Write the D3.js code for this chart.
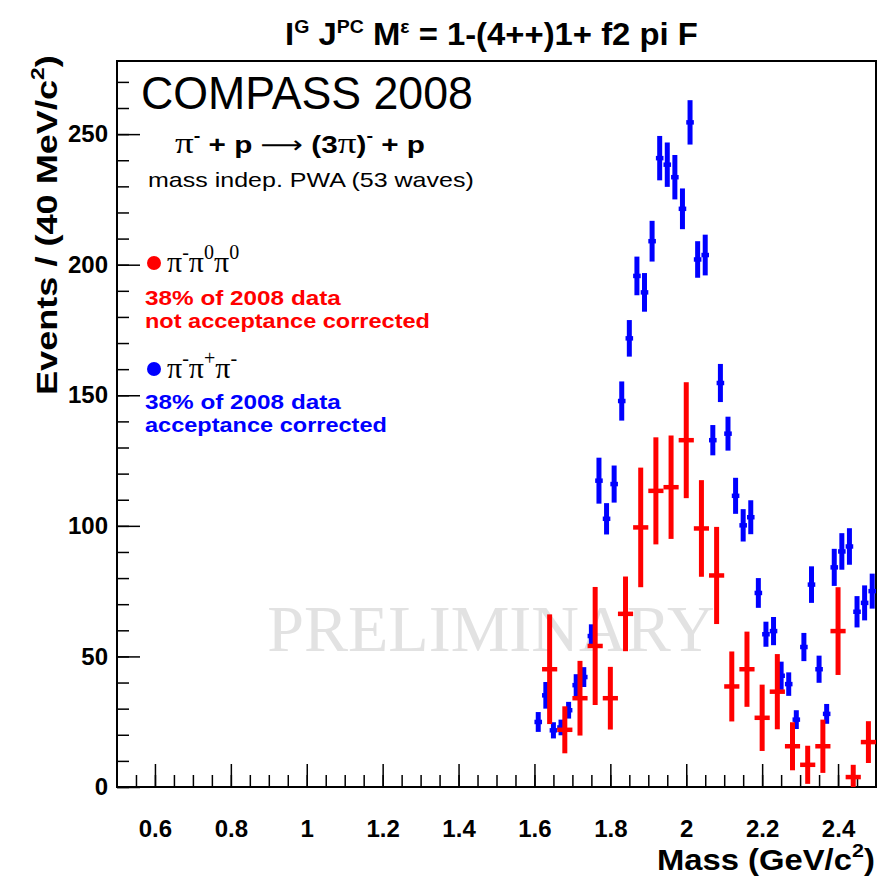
<!DOCTYPE html>
<html>
<head>
<meta charset="UTF-8">
<style>
body { margin: 0; background: #fff; }
svg { display: block; }
text { font-family: "Liberation Sans", Arial, sans-serif; }
.axis text { font-size: 24px; font-weight: bold; fill: #000; }
.axis line { stroke: #000; stroke-width: 1.5; }
</style>
</head>
<body>
<svg width="888" height="882"></svg>
<script src="https://d3js.org/d3.v7.min.js"></script>
<script>
// pi- pi+ pi- (blue), acceptance corrected
var blueMass = [1.61, 1.63, 1.65, 1.67, 1.69, 1.71, 1.73, 1.75, 1.77, 1.79, 1.81, 1.83, 1.85, 1.87, 1.89,
    1.91, 1.93, 1.95, 1.97, 1.99, 2.01, 2.03, 2.05, 2.07, 2.09, 2.11, 2.13, 2.15, 2.17, 2.19,
    2.21, 2.23, 2.25, 2.27, 2.29, 2.31, 2.33, 2.35, 2.37, 2.39, 2.41, 2.43, 2.45, 2.47, 2.49];
var blueVal = [24.9, 35.1, 21.7, 22.8, 29.4, 39, 42.1, 57.8, 117.3, 102.7, 116, 147.8, 171.8, 195.7, 189.4,
    209, 240.8, 238.3, 233.5, 221.4, 254.5, 202, 203.7, 132.8, 154.7, 135.3, 111.5, 100.2, 103.3, 74.3,
    58.5, 59.7, 42.6, 39.4, 25.8, 53.6, 77.5, 45.1, 28, 84.1, 90.2, 92.1, 67.1, 70.5, 75];
var blueErr = [3.8, 5.1, 3.1, 3, 3.2, 4.2, 3.8, 4.5, 8.8, 6, 7.1, 7.5, 7, 7.4, 7.4,
    7.8, 8.5, 8.5, 8.5, 7.8, 8.5, 7, 7.8, 5.8, 7.3, 6.5, 6.9, 6.2, 6.5, 5.7,
    4.8, 5.4, 5.4, 4.5, 3.6, 5.4, 7, 5.2, 3.8, 7.1, 7, 7, 6, 6.7, 6.7];

// pi- pi0 pi0 (red), not acceptance corrected
var redMass = [1.64, 1.68, 1.72, 1.76, 1.80, 1.84, 1.88, 1.92, 1.96, 2.00, 2.04,
    2.08, 2.12, 2.16, 2.20, 2.24, 2.28, 2.32, 2.36, 2.40, 2.44, 2.48];
var redVal = [45.1, 21.9, 34, 54, 34, 66.3, 99.4, 113.4, 114.8, 132.8, 99,
    81, 38.5, 45.1, 26.5, 36.5, 15.6, 8.5, 15.6, 59.7, 3.8, 17.2];
var redErr = [21, 9, 14.3, 22.6, 12, 14.3, 22.9, 20.5, 19.8, 22.2, 18.5,
    18.6, 13.4, 14.4, 12.7, 14.4, 9.2, 7.3, 10.2, 16.8, 4.7, 8];

var xMajor = [0.6, 0.8, 1.0, 1.2, 1.4, 1.6, 1.8, 2.0, 2.2, 2.4];
var xLabels = ["0.6", "0.8", "1", "1.2", "1.4", "1.6", "1.8", "2", "2.2", "2.4"];
var yMajor = [0, 50, 100, 150, 200, 250];

var svg = d3.select("svg");
var plotL = 117, plotR = 876, plotT = 61, plotB = 787;

var x = d3.scaleLinear().domain([0.5, 2.5]).range([plotL, plotR]);
var y = d3.scaleLinear().domain([0, 278]).range([plotB, plotT]);

svg.append("defs").append("clipPath").attr("id", "plot")
    .append("rect").attr("x", plotL).attr("y", plotT)
    .attr("width", plotR - plotL).attr("height", plotB - plotT);

var serif = "'Liberation Serif', 'Times New Roman', serif";

// squeeze a text horizontally to a given width
function fitLabel(parent, x0, y0, width, rot, build) {
    var g = parent.append("g");
    var t = g.append("text");
    build(t);
    var w = t.node().getBBox().width;
    g.attr("transform", "translate(" + x0 + "," + y0 + ")" + (rot ? " rotate(" + rot + ")" : "") +
        " scale(" + (width / w) + ",1)");
    return t;
}
// superscript, then the following text back on the baseline
function sup(t, s, size, shift, after) {
    t.append("tspan").attr("dy", -shift).style("font-size", size + "px").text(s);
    return t.append("tspan").attr("dy", shift).text(after);
}
function pi(t, dy) {
    return t.append("tspan").attr("dy", dy || 0).style("font-family", serif)
        .style("font-size", "30px").style("font-weight", "normal").text("\u03c0");
}

// watermark
svg.append("text")
    .attr("x", 491).attr("y", 651)
    .attr("text-anchor", "middle")
    .style("font-family", serif)
    .style("font-size", "66px")
    .attr("fill", "#e2e2e2")
    .text("PRELIMINARY");

// axes
svg.append("g").attr("class", "axis").attr("transform", "translate(" + plotL + ",0)")
    .call(d3.axisLeft(y).tickValues(d3.range(0, 280, 10)).tickSize(-12).tickFormat(""));
svg.append("g").attr("class", "axis").attr("transform", "translate(" + plotL + ",0)")
    .call(d3.axisLeft(y).tickValues(yMajor).tickSize(-23).tickPadding(9).tickFormat(d3.format("d")));
svg.append("g").attr("class", "axis").attr("transform", "translate(0," + plotB + ")")
    .call(d3.axisBottom(x).tickValues(d3.range(0.55, 2.5, 0.05)).tickSize(-12).tickFormat(""));
svg.append("g").attr("class", "axis").attr("transform", "translate(0," + plotB + ")")
    .call(d3.axisBottom(x).tickValues(xMajor).tickSize(-23).tickPadding(33)
        .tickFormat(function(d, i) { return xLabels[i]; }));
svg.selectAll(".axis .domain").remove();

svg.append("rect")
    .attr("x", plotL).attr("y", plotT)
    .attr("width", plotR - plotL).attr("height", plotB - plotT)
    .attr("fill", "none").attr("stroke", "#000").attr("stroke-width", 2);

// data
function drawSeries(mass, val, err, color, dx, w) {
    var g = svg.append("g").attr("clip-path", "url(#plot)");
    var pts = g.selectAll("g").data(mass).enter().append("g");
    pts.append("line")
        .attr("x1", function(d) { return x(d); })
        .attr("x2", function(d) { return x(d); })
        .attr("y1", function(d, i) { return y(val[i] - err[i]); })
        .attr("y2", function(d, i) { return y(val[i] + err[i]); })
        .attr("stroke", color).attr("stroke-width", w);
    pts.append("line")
        .attr("x1", function(d) { return x(d - dx); })
        .attr("x2", function(d) { return x(d + dx); })
        .attr("y1", function(d, i) { return y(val[i]); })
        .attr("y2", function(d, i) { return y(val[i]); })
        .attr("stroke", color).attr("stroke-width", w - 0.5);
}
drawSeries(blueMass, blueVal, blueErr, "#0000ff", 0.01, 5);
drawSeries(redMass, redVal, redErr, "#ff0000", 0.02, 5);

// title
fitLabel(svg, 285, 45, 413, 0, function(t) {
    t.style("font-size", "32px").style("font-weight", "bold");
    t.append("tspan").text("I");
    sup(t, "G", 19, 12, " J");
    sup(t, "PC", 19, 12, " M");
    sup(t, "\u03b5", 19, 12, " = 1-(4++)1+ f2 pi F");
});

// axis titles
fitLabel(svg, 657, 870, 218, 0, function(t) {
    t.style("font-size", "29px").style("font-weight", "bold");
    t.append("tspan").text("Mass (GeV/c");
    sup(t, "2", 19, 13, ")");
});
fitLabel(svg, 57, 395, 340, -90, function(t) {
    t.style("font-size", "30px").style("font-weight", "bold");
    t.append("tspan").text("Events / (40 MeV/c");
    sup(t, "2", 19, 13, ")");
});

// annotations
fitLabel(svg, 141, 109, 332, 0, function(t) {
    t.style("font-size", "46px").text("COMPASS 2008");
});
fitLabel(svg, 175, 153, 250, 0, function(t) {
    t.style("font-size", "24px").style("font-weight", "bold");
    pi(t);
    sup(t, "-", 16, 12, " + p ");
    t.append("tspan").style("font-family", "'DejaVu Sans'").style("font-weight", "normal").text("\u27f6");
    t.append("tspan").text("  (3");
    pi(t);
    t.append("tspan").text(")");
    sup(t, "-", 16, 12, " + p");
});
fitLabel(svg, 148, 187, 326, 0, function(t) {
    t.style("font-size", "20px").text("mass indep. PWA (53 waves)");
});

// legend
function pions(x0, y0, color, charges) {
    svg.append("circle").attr("cx", x0 - 13).attr("cy", y0 - 9).attr("r", 7).attr("fill", color);
    var t = svg.append("text").attr("x", x0).attr("y", y0)
        .style("font-family", serif).style("font-size", "30px");
    charges.forEach(function(c, i) {
        pi(t, i === 0 ? 0 : 13);
        t.append("tspan").attr("dy", -13).style("font-size", "20px").text(c);
    });
}
pions(167, 272, "#ff0000", ["-", "0", "0"]);
pions(167, 378, "#0000ff", ["-", "+", "-"]);

function note(y0, width, color, s) {
    fitLabel(svg, 145, y0, width, 0, function(t) {
        t.style("font-size", "20px").style("font-weight", "bold").attr("fill", color).text(s);
    });
}
note(305, 197, "#ff0000", "38% of 2008 data");
note(328, 285, "#ff0000", "not acceptance corrected");
note(409, 197, "#0000ff", "38% of 2008 data");
note(432, 242, "#0000ff", "acceptance corrected");
</script>
</body>
</html>
